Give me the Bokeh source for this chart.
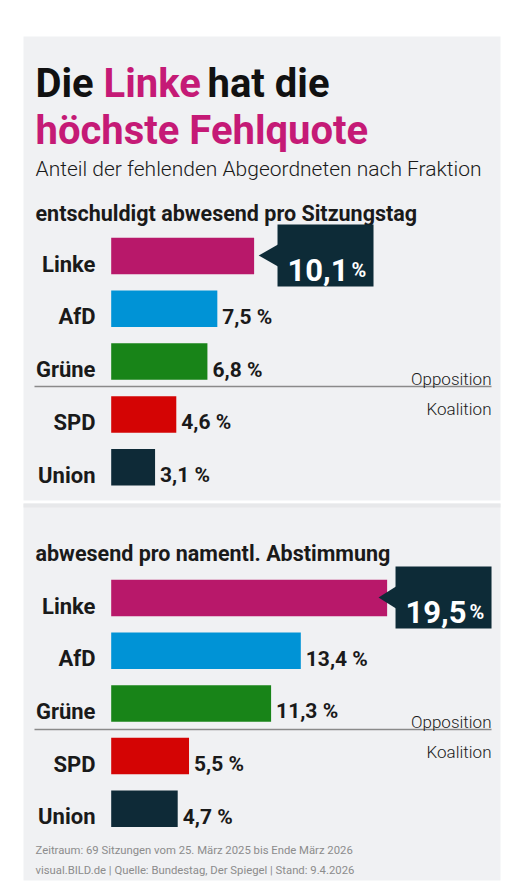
from bokeh.plotting import figure
from bokeh.models import Range1d
from bokeh.embed import file_html
from bokeh.resources import INLINE
from bokeh.core.properties import value

# ---------------- data ----------------
parties = ["Linke", "AfD", "Grüne", "SPD", "Union"]
bar_colors = ["#b8186a", "#0093d6", "#188418", "#d40404", "#0e2a37"]
sitzungstag = [10.1, 7.5, 6.8, 4.6, 3.1]
abstimmung = [19.5, 13.4, 11.3, 5.5, 4.7]

title_1 = ["Die", "Linke", "hat die"]
title_2 = "höchste Fehlquote"
subtitle = "Anteil der fehlenden Abgeordneten nach Fraktion"
header_1 = "entschuldigt abwesend pro Sitzungstag"
header_2 = "abwesend pro namentl. Abstimmung"
group_top, group_bottom = "Opposition", "Koalition"
footer_1 = "Zeitraum: 69 Sitzungen vom 25. März 2025 bis Ende März 2026"
footer_2 = "visual.BILD.de | Quelle: Bundestag, Der Spiegel | Stand: 9.4.2026"

# ---------------- layout helpers ----------------
W, H = 526, 896
ORIGIN = 110.7      # px of value 0
PXU = 14.15         # px per percentage point
FONT = "Roboto"
LIGHT = "Roboto Light"
MAGENTA = "#c51a76"
DARK = "#1a1a1a"
BOX = "#0d2b37"

def xd(rx):
    return (rx - ORIGIN) / PXU

def px(d):
    return d / PXU

p = figure(width=W, height=H, output_backend="svg", toolbar_location=None,
           x_range=Range1d(-ORIGIN / PXU, (W - ORIGIN) / PXU),
           y_range=Range1d(H, 0), x_axis_type=None, y_axis_type=None,
           min_border=0, outline_line_color=None,
           background_fill_color="white", border_fill_color="white")
p.grid.visible = False

# panels
p.quad(left=[xd(23), xd(23)], right=[xd(500), xd(500)],
       top=[36, 503], bottom=[500, 880],
       fill_color="#f0f1f3", line_color=None)
p.quad(left=[xd(23)], right=[xd(500)], top=[503], bottom=[507],
       fill_color="#e7e8ea", line_color=None)

def txt(x, y, t, size, color=DARK, bold=False, align="left", font=FONT):
    p.text(x=[x], y=[y], text=[t], text_font=value(font),
           text_font_size=f"{size}px",
           text_font_style="bold" if bold else "normal",
           text_color=color, text_align=align, text_baseline="alphabetic")

# title
txt(xd(35), 83, title_1[0], 40, "#111111", True)
txt(xd(103), 83, title_1[1], 40, MAGENTA, True)
txt(xd(207), 83, title_1[2], 40, "#111111", True)
txt(xd(35), 130, title_2, 40, MAGENTA, True)
txt(xd(35), 168, subtitle, 21, DARK, font=LIGHT)
txt(xd(35), 213, header_1, 21.5, DARK, True)
txt(xd(35), 553, header_2, 21.5, DARK, True)

def chart(vals, first_center, step, box_off, tip_off, sep_y):
    centers = [first_center + i * step for i in range(len(vals))]
    p.hbar(y=centers, left=0, right=vals, height=36.5,
           fill_color=bar_colors, line_color=None)
    p.text(x=[xd(95)] * len(parties), y=[c + 8 for c in centers], text=parties,
           text_font=value(FONT), text_font_size="22px", text_font_style="bold",
           text_color=DARK, text_align="right", text_baseline="alphabetic")
    labels = [f"{v:.1f}".replace(".", ",") + " %" for v in vals[1:]]
    p.text(x=[v + px(5) for v in vals[1:]], y=[c + 8 for c in centers[1:]],
           text=labels, text_font=value(FONT), text_font_size="21px",
           text_font_style="bold", text_color=DARK, text_align="left",
           text_baseline="alphabetic")
    # callout for the top value
    v0, c0 = vals[0], centers[0] - 0.5
    bl = v0 + px(box_off)
    p.quad(left=[bl], right=[bl + px(96)], top=[c0 - 31], bottom=[c0 + 31],
           fill_color=BOX, line_color=None)
    p.patch(x=[v0 + px(tip_off), bl + px(0.5), bl + px(0.5)],
            y=[c0, c0 - 11, c0 + 11], fill_color=BOX, line_color=None)
    num = f"{v0:.1f}".replace(".", ",")
    p.text(x=[bl + px(71)], y=[c0 + 14], text=[num], text_font=value(FONT),
           text_font_size="31px", text_font_style="bold", text_color="white",
           text_align="right", text_baseline="alphabetic")
    p.text(x=[bl + px(74)], y=[c0 + 14], text=["%"], text_font=value(FONT),
           text_font_size="20px", text_font_style="bold", text_color="white",
           text_align="left", text_baseline="alphabetic")
    # opposition / coalition divider
    p.segment(x0=[xd(34)], x1=[xd(491)], y0=[sep_y], y1=[sep_y],
              line_color="#8a8a8a", line_width=1.5)
    txt(xd(491), sep_y - 8, group_top, 17, DARK, False, "right", LIGHT)
    txt(xd(491), sep_y + 22, group_bottom, 17, DARK, False, "right", LIGHT)

chart(sitzungstag, 255.5, 52.8, 23.4, 4.6, 386)
chart(abstimmung, 597.5, 52.7, 8.4, -8.6, 729)

txt(xd(35), 850, footer_1, 11.3, "#8c8c8c")
txt(xd(35), 870, footer_2, 11.3, "#8c8c8c")

open("out.html", "w").write(file_html(p, INLINE))
